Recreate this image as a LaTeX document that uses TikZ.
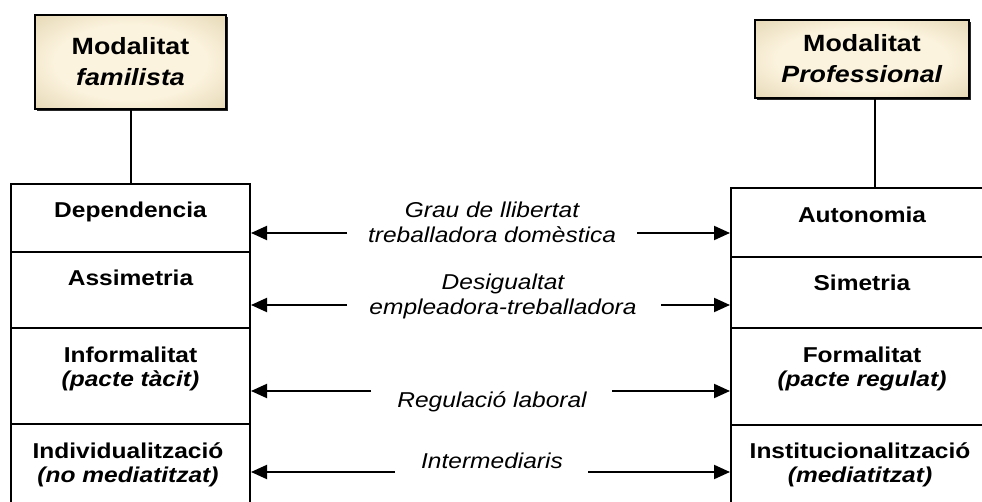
\documentclass[tikz,border=0pt]{standalone}
\usepackage{fontspec}
\setmainfont[FakeStretch=1.14]{Liberation Sans}
\usetikzlibrary{arrows.meta,shadows}

\definecolor{tanedge}{RGB}{208,192,145}
\definecolor{tancore}{RGB}{252,243,222}
\pgfdeclareradialshading{modglow}{\pgfpoint{0bp}{0bp}}{color(0bp)=(tancore); color(20bp)=(tancore); color(50bp)=(tanedge); color(100bp)=(tanedge)}

\begin{document}
\begin{tikzpicture}[x=1pt,y=-1pt,
    modbox/.style={draw,line width=1.6pt,shade,shading=modglow,
        drop shadow={shadow xshift=2pt,shadow yshift=-2pt,fill=black!85,opacity=1},
        inner sep=0pt,align=center,font=\fontsize{23.5}{31}\selectfont\bfseries},
    rowbox/.style={draw,line width=2pt,inner sep=0pt},
    rowtxt/.style={align=center,font=\fontsize{21.5}{24}\selectfont\bfseries},
    midtxt/.style={align=center,font=\fontsize{21.5}{25}\selectfont\itshape},
    dblarr/.style={-{Triangle[length=16pt,width=14pt]},line width=2pt}]
    \useasboundingbox (0,0) rectangle (982,502);
    \clip (0,0) rectangle (982,502);

    % the two modalities
    \node[modbox,minimum width=191pt,minimum height=94pt](fam) at (130.5,62){Modalitat\\\textit{familista}};
    \node[modbox,minimum width=214pt,minimum height=78pt](pro) at (862,59){Modalitat\\\textit{Professional}};

    % left column
    \node[rowbox,minimum width=239pt,minimum height=68pt](dep) at (130.5,218){};
    \node[rowbox,minimum width=239pt,minimum height=76pt](asi) at (130.5,290){};
    \node[rowbox,minimum width=239pt,minimum height=96pt](inf) at (130.5,376){};
    \node[rowbox,minimum width=239pt,minimum height=96pt](ind) at (130.5,472){};
    \node[rowtxt](tdep) at (130.5,211.5){Dependencia};
    \node[rowtxt](tasi) at (130.5,277.5){Assimetria};
    \node[rowtxt](tinf) at (130.5,368.5){Informalitat\\\textit{(pacte tàcit)}};
    \node[rowtxt](tind) at (128,464.5){Individualització\\\textit{(no mediatitzat)}};

    % right column
    \node[rowbox,minimum width=259pt,minimum height=69pt](aut) at (860.5,222.5){};
    \node[rowbox,minimum width=259pt,minimum height=71pt](sim) at (860.5,292.5){};
    \node[rowbox,minimum width=259pt,minimum height=97pt](frm) at (860.5,376.5){};
    \node[rowbox,minimum width=259pt,minimum height=96pt](ins) at (860.5,473){};
    \node[rowtxt](taut) at (862,214.5){Autonomia};
    \node[rowtxt](tsim) at (862,282.5){Simetria};
    \node[rowtxt](tfrm) at (862,368.5){Formalitat\\\textit{(pacte regulat)}};
    \node[rowtxt](tins) at (860,464.5){Institucionalització\\\textit{(mediatitzat)}};

    \draw[line width=2pt](fam.south)--(fam.south |- dep.north);
    \draw[line width=2pt]([xshift=13pt]pro.south)--([xshift=13pt]pro.south |- aut.north);

    % dimensions in the middle
    \node[midtxt](mgrau) at (492,222){Grau de llibertat\\treballadora domèstica};
    \node[midtxt](mdes) at (503,296){Desigualtat\\empleadora-treballadora};
    \node[midtxt](mreg) at (492,402){Regulació laboral};
    \node[midtxt](mint) at (492,461){Intermediaris};

    \coordinate(gL) at (347,233); \coordinate(gR) at (637,233);
    \coordinate(dL) at (347,305); \coordinate(dR) at (661,305);
    \coordinate(rL) at (371,391); \coordinate(rR) at (612,391);
    \coordinate(iL) at (395,472); \coordinate(iR) at (588,472);

    \draw[dblarr](gL)--(gL -| dep.east);
    \draw[dblarr](gR)--(gR -| aut.west);
    \draw[dblarr](dL)--(dL -| asi.east);
    \draw[dblarr](dR)--(dR -| sim.west);
    \draw[dblarr](rL)--(rL -| inf.east);
    \draw[dblarr](rR)--(rR -| frm.west);
    \draw[dblarr](iL)--(iL -| ind.east);
    \draw[dblarr](iR)--(iR -| ins.west);
\end{tikzpicture}
\end{document}
